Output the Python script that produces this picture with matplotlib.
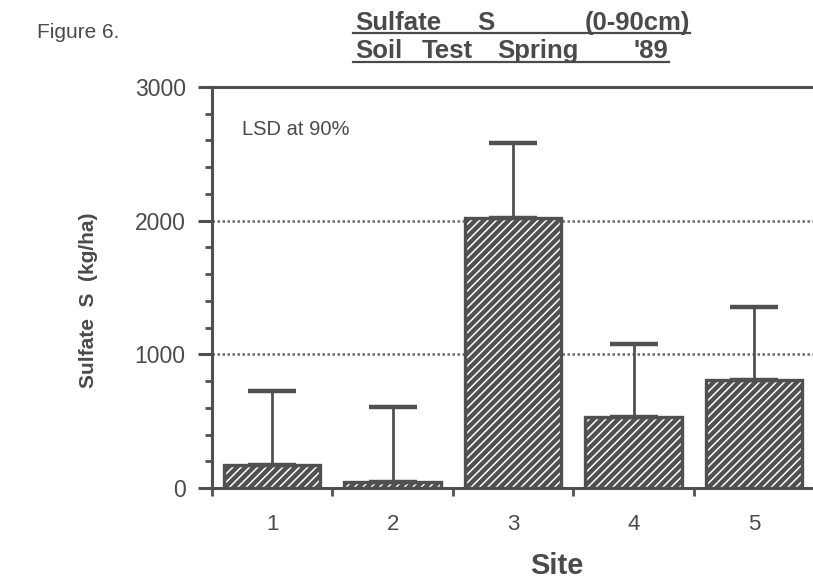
import matplotlib
matplotlib.use("Agg")
import matplotlib.pyplot as plt
from matplotlib.lines import Line2D

# data
sites = [1, 2, 3, 4, 5]
site_labels = ["1", "2", "3", "4", "5"]
sulfate = [172, 45, 2019, 531, 808]
lsd = [553, 561, 561, 546, 546]

W, H = 813, 582
ink = "#4a4a4a"
bar_col = "#505050"

plt.rcParams["font.family"] = ["Liberation Sans", "DejaVu Sans"]
plt.rcParams["hatch.linewidth"] = 1.1


def fx(px):
    return px / W


def fy(py):
    return 1 - py / H


fig = plt.figure(figsize=(W / 100, H / 100), dpi=100)
ax = fig.add_axes([fx(212), fy(488), 1 - fx(212), fy(87) - fy(488)])

# reference lines behind the bars
for yv in (1000, 2000):
    ax.axhline(yv, color="#6a6a6a", lw=1.8, ls=(0, (1, 1)), zorder=1)

# hatched bars: white hatch on dark fill, then a dark outline on top
ax.bar(sites, sulfate, width=0.8, color=bar_col, edgecolor="white",
       hatch="////", linewidth=0, zorder=2)
ax.bar(sites, sulfate, width=0.8, fill=False, edgecolor=bar_col,
       linewidth=2.4, zorder=3)

# one-sided LSD bars
ax.errorbar(sites, sulfate, yerr=[[0] * len(lsd), lsd], fmt="none",
            ecolor=bar_col, elinewidth=2, capsize=17, capthick=3.2, zorder=4)

ax.set_xlim(0.5, 5.49)
ax.set_ylim(0, 3000)

for side in ("left", "top", "bottom"):
    ax.spines[side].set_color(bar_col)
    ax.spines[side].set_linewidth(2.2)
ax.spines["right"].set_visible(False)

ax.set_yticks([0, 1000, 2000, 3000])
ax.set_yticks(range(0, 3001, 200), minor=True)
ax.set_xticks(sites)
ax.set_xticklabels(site_labels)
ax.set_xticks([0.5, 1.5, 2.5, 3.5, 4.5], minor=True)
ax.tick_params(axis="y", which="major", length=10, width=2.2, color=bar_col,
               labelsize=16.5, labelcolor=ink, pad=9)
ax.tick_params(axis="y", which="minor", length=5, width=2, color=bar_col)
ax.tick_params(axis="x", which="major", length=0, labelsize=16,
               labelcolor=ink, pad=19)
ax.tick_params(axis="x", which="minor", length=6, width=2, color=bar_col)

ax.text(0.05, 0.895, "LSD at 90%", transform=ax.transAxes, fontsize=14.5,
        color=ink, va="center")

fig.text(fx(88), fy(300), "Sulfate  S  (kg/ha)", rotation=90, ha="center",
         va="center", fontsize=15, fontweight="bold", color=ink)
fig.text(fx(557), fy(566), "Site", ha="center", va="center", fontsize=21,
         fontweight="bold", color=ink)
fig.text(fx(37), fy(33), "Figure 6.", ha="left", va="center", fontsize=15,
         color=ink)

# title, word by word so the wide spacing of the original is kept
title_words = [
    ("Sulfate", 355, 30, "left"), ("S", 477, 30, "left"),
    ("(0-90cm)", 690, 30, "right"),
    ("Soil", 355, 58, "left"), ("Test", 422, 58, "left"),
    ("Spring", 497, 58, "left"), ("'89", 668, 58, "right"),
]
for word, xp, yp, ha in title_words:
    fig.text(fx(xp), fy(yp), word, ha=ha, va="baseline", fontsize=18.5,
             fontweight="bold", color=ink)

# underlines
for x0, x1, yp in ((353, 690, 33), (353, 669, 62)):
    fig.add_artist(Line2D([fx(x0), fx(x1)], [fy(yp), fy(yp)], color=ink,
                          lw=1.6, transform=fig.transFigure))

fig.savefig("out.png", dpi=100)
